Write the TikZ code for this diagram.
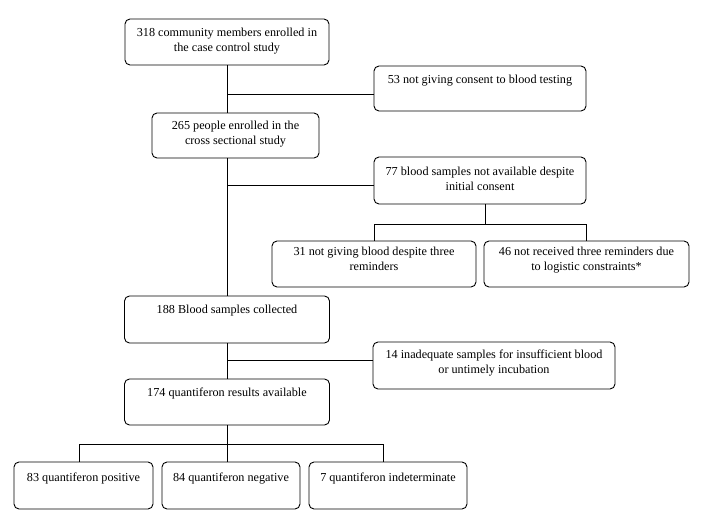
\documentclass[tikz,border=0pt]{standalone}
\usepackage{fontspec}
\setmainfont{Liberation Serif}
\newcommand\mkbox[4]{\parbox[c][#2pt][t]{#1pt}{\centering\fontsize{12.2}{14.5}\selectfont\vspace*{#3pt}\strut #4}}
\begin{document}
\begin{tikzpicture}[x=1pt,y=-1pt,
  flowbox/.style={draw, line width=0.9pt, rounded corners=5pt, inner sep=0pt, fill=white},
  link/.style={line width=0.9pt}]
\useasboundingbox[fill=white] (0,0) rectangle (705,519);
% boxes
\node[flowbox] (A) at (227,42)    {\mkbox{204}{46}{7.8}{318 community members enrolled in\\ the case control study}};
\node[flowbox] (B) at (480,88.5)  {\mkbox{212}{45}{7.8}{53 not giving consent to blood testing}};
\node[flowbox] (C) at (235.5,135.5) {\mkbox{167}{45}{6.8}{265 people enrolled in the\\ cross sectional study}};
\node[flowbox] (D) at (480,180.5) {\mkbox{212}{47}{8.6}{77 blood samples not available despite\\ initial consent}};
\node[flowbox] (E) at (374,264)   {\mkbox{204}{46}{4.8}{31 not giving blood despite three\\ reminders}};
\node[flowbox] (F) at (586.5,264) {\mkbox{205}{46}{4.8}{46 not received three reminders due\\ to logistic constraints*}};
\node[flowbox] (G) at (227,319.5) {\mkbox{205}{47}{7.8}{188 Blood samples collected}};
\node[flowbox] (H) at (494,365.5) {\mkbox{242}{47}{6.8}{14 inadequate samples for insufficient blood\\ or untimely incubation}};
\node[flowbox] (I) at (227,402)   {\mkbox{205}{46}{7.8}{174 quantiferon results available}};
\node[flowbox] (J) at (83.5,485.5) {\mkbox{139}{47}{9.8}{83 quantiferon positive}};
\node[flowbox] (K) at (231,485.5) {\mkbox{138}{47}{9.8}{84 quantiferon negative}};
\node[flowbox] (L) at (388,485.5) {\mkbox{158}{47}{9.8}{7 quantiferon indeterminate}};
% connectors
\draw[link] (A.south) -- (A.south |- C.north);
\draw[link] (A.south |- 0,94) -- (B.west |- 0,94);
\draw[link] (G.north |- C.south) -- (G.north);
\draw[link] (G.north |- 0,185) -- (D.west |- 0,185);
\draw[link] ([xshift=5pt]D.south) -- ([xshift=5pt]D.south |- 0,224);
\draw[link] (E.north |- 0,224) -- (F.north |- 0,224);
\draw[link] (E.north |- 0,224) -- (E.north);
\draw[link] (F.north |- 0,224) -- (F.north);
\draw[link] (G.south) -- (I.north);
\draw[link] (G.south |- 0,360) -- (H.west |- 0,360);
\draw[link] (I.south) -- (I.south |- K.north);
\draw[link] ([xshift=-4.5pt]J.north |- 0,444) -- ([xshift=-5pt]L.north |- 0,444);
\draw[link] ([xshift=-4.5pt]J.north |- 0,444) -- ([xshift=-4.5pt]J.north);
\draw[link] ([xshift=-5pt]L.north |- 0,444) -- ([xshift=-5pt]L.north);
\end{tikzpicture}
\end{document}
